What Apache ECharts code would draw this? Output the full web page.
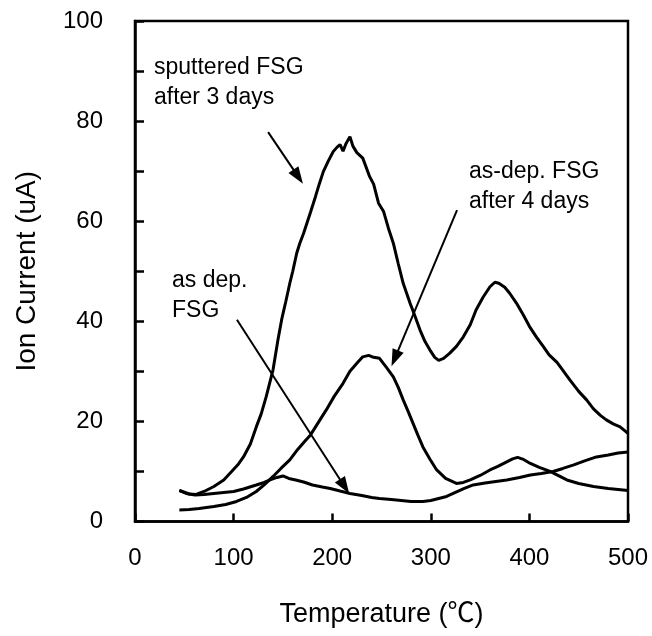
<!DOCTYPE html>
<html>
<head>
<meta charset="utf-8">
<script src="https://cdn.jsdelivr.net/npm/echarts@6/dist/echarts.min.js"></script>
<style>
html,body{margin:0;padding:0;background:#fff;}
#chart{width:652px;height:636px;}
</style>
</head>
<body>
<div id="chart"></div>
<script>
// ---- data (temperature in °C, ion current in uA) ----
const xTicks = [0, 100, 200, 300, 400, 500];
const yTicks = [0, 20, 40, 60, 80, 100];

const sputteredAfter3Days = [
  [45,6.2],[55,5.5],[62,5.4],[70,6],[80,7],[90,8.3],[98,10],[105,11.5],[110,12.9],[117,15.5],
  [123,18.9],[128,21.5],[133,24.9],[140,30.3],[145,36.3],[149,40.6],[153,44],[157,47.6],[160,50],
  [164,53.6],[167,55.5],[171,57.6],[175,60],[178,61.8],[183,64.9],[187,67.5],[191,69.9],[196,72],
  [201,73.9],[205,74.8],[208,75.3],[211,74],[214,75.5],[218,76.9],[221,75],[225,73.7],[231,72.6],
  [238,68.9],[242,67.4],[247,63.6],[252,62],[257,58.6],[262,55.6],[267,51.5],[272,47.6],[279,43.6],
  [284,41],[289,38.3],[294,36],[299,34.3],[304,32.8],[308,32.2],[313,32.6],[319,33.6],[326,35],
  [333,36.9],[340,39.3],[346,42.3],[353,44.8],[360,46.9],[365,47.8],[369,47.6],[375,46.8],[380,45.6],
  [387,43.6],[394,41.2],[400,39],[407,36.9],[414,35],[420,33.3],[428,31.8],[434,30.2],[441,28.3],
  [450,26],[458,24.3],[465,22.5],[472,21.2],[478,20.3],[485,19.5],[492,18.9],[500,17.6]
];
const asDepAfter4Days = [
  [45,2.3],[55,2.4],[65,2.6],[80,3],[92,3.4],[103,4],[113,4.8],[123,6],[131,7.3],[140,9],
  [148,10.6],[157,12.3],[165,14.4],[172,16],[178,17.3],[186,19.8],[194,22.3],[202,25],[211,27.6],
  [218,30],[225,31.6],[231,32.9],[237,33.2],[242,32.8],[248,32.6],[255,30.8],[262,28.9],[267,26.8],
  [272,24.3],[277,22],[282,19.6],[287,17.2],[292,14.9],[299,12.5],[306,10.3],[315,8.6],[326,7.6],
  [333,7.8],[340,8.3],[350,9.2],[360,10.3],[368,11],[377,11.9],[383,12.5],[388,12.8],[394,12.4],
  [401,11.6],[410,10.8],[421,10],[430,9.1],[438,8.3],[450,7.6],[465,7],[480,6.6],[490,6.4],[500,6.2]
];
const asDep = [
  [45,6.2],[52,5.6],[61,5.3],[70,5.4],[80,5.6],[90,5.8],[100,6],[110,6.5],[123,7.3],[131,7.8],
  [137,8.3],[144,8.8],[150,9.1],[156,8.6],[163,8.3],[171,7.9],[180,7.3],[190,6.9],[198,6.6],
  [208,6.1],[218,5.6],[230,5.2],[240,4.8],[248,4.6],[260,4.4],[270,4.2],[280,4],[292,4],[300,4.2],
  [310,4.7],[316,5],[325,5.8],[334,6.6],[343,7.3],[355,7.7],[366,8],[377,8.3],[390,8.8],[401,9.3],
  [412,9.6],[424,10],[434,10.6],[445,11.3],[456,12.1],[468,12.9],[480,13.3],[490,13.7],[500,13.9]
];

// annotation arrows: [from(x,y), to(x,y)] in data units
const arrowFrom = [[135, 77.8], [326.6, 62.2], [103.4, 40.3]];
const arrowTo   = [[165.5, 68.9], [263.5, 32.6], [212.5, 7.0]];
const labelLines = [
  ['sputtered FSG', 'after 3 days'],
  ['as-dep. FSG', 'after 4 days'],
  ['as dep.', 'FSG']
];
// ---- end data ----

const FONT = '"Liberation Sans", Arial, "Noto Sans CJK SC", sans-serif';
const labelPos = [[154, 68], [469, 172], [172, 281]];

const chart = echarts.init(document.getElementById('chart'), null, {renderer: 'canvas'});

const curveStyle = {color: '#000', width: 3};
function curve(name, data) {
  return {
    name, type: 'line', data, showSymbol: false, symbol: 'none',
    lineStyle: curveStyle, itemStyle: {color: '#000'}, silent: true, z: 3
  };
}

const graphics = [];
labelLines.forEach((lines, i) => {
  lines.forEach((t, j) => {
    graphics.push({
      type: 'text', x: labelPos[i][0], y: labelPos[i][1] + j * 30,
      style: {text: t, font: '23px ' + FONT, fill: '#000', textAlign: 'left', textVerticalAlign: 'middle'},
      silent: true, z: 10
    });
  });
});

chart.setOption({
  animation: false,
  backgroundColor: '#fff',
  grid: {left: 135, right: 24, top: 21, bottom: 114.5, show: true, borderColor: '#000', borderWidth: 2.5, containLabel: false, outerBoundsMode: 'none'},
  xAxis: {
    type: 'value', min: 0, max: 500, interval: 100,
    name: 'Temperature (\u2103)', nameLocation: 'middle', nameGap: 80,
    nameTextStyle: {fontSize: 27, color: '#000', fontFamily: FONT},
    axisLine: {show: true, onZero: false, lineStyle: {color: '#000', width: 2.5}},
    axisTick: {show: true, inside: true, length: 8, lineStyle: {color: '#000', width: 2.5}},
    axisLabel: {color: '#000', fontSize: 24, fontFamily: FONT, margin: 25},
    splitLine: {show: false}
  },
  yAxis: {
    type: 'value', min: 0, max: 100, interval: 10,
    name: 'Ion Current (uA)', nameLocation: 'middle', nameGap: 94, nameRotate: 90,
    nameTextStyle: {fontSize: 28, color: '#000', fontFamily: FONT},
    axisLine: {show: true, lineStyle: {color: '#000', width: 2.5}},
    axisTick: {show: true, inside: true, length: 9, lineStyle: {color: '#000', width: 2.5}},
    axisLabel: {color: '#000', fontSize: 24, fontFamily: FONT, margin: 32,
      formatter: v => (yTicks.indexOf(v) >= 0 ? String(v) : '')},
    splitLine: {show: false}
  },
  graphic: graphics,
  series: [
    curve('sputtered FSG after 3 days', sputteredAfter3Days),
    curve('as-dep. FSG after 4 days', asDepAfter4Days),
    curve('as dep. FSG', asDep),
    {
      name: 'arrows', type: 'line', data: [], silent: true,
      markLine: {
        silent: true, animation: false,
        symbol: ['none', 'triangle'], symbolSize: [12, 17],
        label: {show: false},
        lineStyle: {color: '#000', width: 2, type: 'solid'},
        itemStyle: {color: '#000'},
        emphasis: {disabled: true},
        data: arrowFrom.map((f, i) => [{coord: f}, {coord: arrowTo[i]}])
      }
    }
  ]
});
</script>
</body>
</html>
